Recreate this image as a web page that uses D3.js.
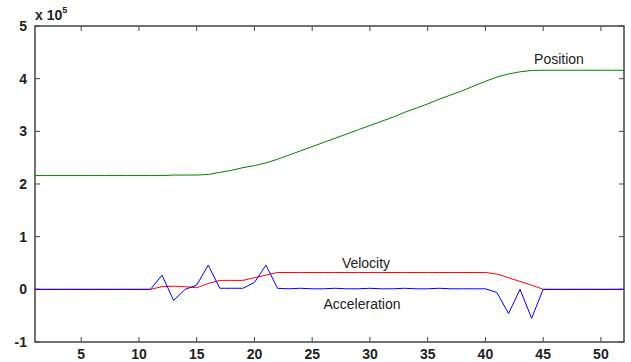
<!DOCTYPE html>
<html>
<head>
<meta charset="utf-8">
<script src="https://cdn.jsdelivr.net/npm/d3@7"></script>
<style>
  body { margin: 0; background: #fff; }
  svg { display: block; }
</style>
</head>
<body>
<svg id="chart"></svg>
<script>
var width = 631, height = 362;

// data (values in units of 1e5)
var steps = d3.range(1, 53);
var position = [2.16, 2.16, 2.16, 2.16, 2.16, 2.16, 2.16, 2.16, 2.16, 2.16,
                2.16, 2.16, 2.17, 2.17, 2.17, 2.18, 2.22, 2.26, 2.31, 2.35,
                2.40, 2.47, 2.55, 2.63, 2.71, 2.79, 2.87, 2.95, 3.03, 3.11,
                3.19, 3.27, 3.36, 3.44, 3.52, 3.61, 3.69, 3.77, 3.86, 3.95,
                4.03, 4.09, 4.13, 4.155, 4.16, 4.16, 4.16, 4.16, 4.16, 4.16,
                4.16, 4.16];
var velocity = [0, 0, 0, 0, 0, 0, 0, 0, 0, 0,
                0, 0.05, 0.06, 0.05, 0.03, 0.11, 0.17, 0.17, 0.17, 0.22,
                0.27, 0.32, 0.32, 0.32, 0.32, 0.32, 0.32, 0.32, 0.32, 0.32,
                0.32, 0.32, 0.32, 0.32, 0.32, 0.32, 0.32, 0.32, 0.32, 0.32,
                0.29, 0.22, 0.15, 0.08, 0, 0, 0, 0, 0, 0,
                0, 0];
var acceleration = [0, 0, 0, 0, 0, 0, 0, 0, 0, 0,
                0, 0.27, -0.21, 0, 0.08, 0.46, 0.02, 0.02, 0.02, 0.13,
                0.46, 0.02, 0.01, 0.02, 0.01, 0.01, 0.02, 0.01, 0.01, 0.02,
                0.01, 0.01, 0.02, 0.01, 0.01, 0.02, 0.01, 0.01, 0.01, 0.01,
                -0.06, -0.46, 0, -0.55, 0, 0, 0, 0, 0, 0,
                0, 0];
var xTicks = [5, 10, 15, 20, 25, 30, 35, 40, 45, 50];
var yTicks = [-1, 0, 1, 2, 3, 4, 5];

var series = [
  {name: "Position", values: position, color: "#008000", lx: 559, ly: 64},
  {name: "Velocity", values: velocity, color: "#ff0000", lx: 366, ly: 268},
  {name: "Acceleration", values: acceleration, color: "#0000ff", lx: 362, ly: 309}
];

var m = {left: 35, right: 624, top: 26, bottom: 342};
var font = "Liberation Sans, Arial, sans-serif";

var x = d3.scaleLinear().domain([1, 52]).range([m.left, m.right]);
var y = d3.scaleLinear().domain([-1, 5]).range([m.bottom, m.top]);

var svg = d3.select("#chart").attr("width", width).attr("height", height);

// box
svg.append("rect")
  .attr("x", m.left).attr("y", m.top)
  .attr("width", m.right - m.left).attr("height", m.bottom - m.top)
  .attr("fill", "none")
  .attr("stroke", "#444")
  .attr("stroke-width", 1.5);

// inward ticks on all four sides
var tickLen = 5;
xTicks.forEach(function(t) {
  svg.append("line").attr("x1", x(t)).attr("x2", x(t))
    .attr("y1", m.bottom).attr("y2", m.bottom - tickLen)
    .attr("stroke", "#444");
  svg.append("line").attr("x1", x(t)).attr("x2", x(t))
    .attr("y1", m.top).attr("y2", m.top + tickLen)
    .attr("stroke", "#444");
});
yTicks.forEach(function(t) {
  svg.append("line").attr("x1", m.left).attr("x2", m.left + tickLen)
    .attr("y1", y(t)).attr("y2", y(t))
    .attr("stroke", "#444");
  svg.append("line").attr("x1", m.right).attr("x2", m.right - tickLen)
    .attr("y1", y(t)).attr("y2", y(t))
    .attr("stroke", "#444");
});

// tick labels
svg.append("g").selectAll("text")
  .data(xTicks).enter().append("text")
  .attr("x", function(d) { return x(d); })
  .attr("y", 359)
  .attr("text-anchor", "middle")
  .style("font-family", font)
  .style("font-weight", "bold")
  .style("font-size", "14px")
  .style("fill", "#222")
  .text(function(d) { return d; });

svg.append("g").selectAll("text")
  .data(yTicks).enter().append("text")
  .attr("x", 27)
  .attr("y", function(d) { return y(d) + 5; })
  .attr("text-anchor", "end")
  .style("font-family", font)
  .style("font-weight", "bold")
  .style("font-size", "14px")
  .style("fill", "#222")
  .text(function(d) { return d; });

// exponent
var expo = svg.append("text")
  .attr("x", 35).attr("y", 20)
  .style("font-family", font)
  .style("font-weight", "bold")
  .style("font-size", "14px")
  .style("fill", "#222");
expo.append("tspan").text("x 10");
expo.append("tspan").attr("dy", -7).style("font-size", "9px").text("5");

// lines
var line = d3.line()
  .x(function(d, i) { return x(steps[i]); })
  .y(function(d) { return y(d); });

series.forEach(function(s) {
  svg.append("path")
    .datum(s.values)
    .attr("d", line)
    .attr("fill", "none")
    .attr("stroke", s.color)
    .attr("stroke-width", 1);
  svg.append("text")
    .attr("x", s.lx).attr("y", s.ly)
    .attr("text-anchor", "middle")
    .style("font-family", font)
    .style("font-size", "14px")
    .style("fill", "#222")
    .text(s.name);
});
</script>
</body>
</html>
